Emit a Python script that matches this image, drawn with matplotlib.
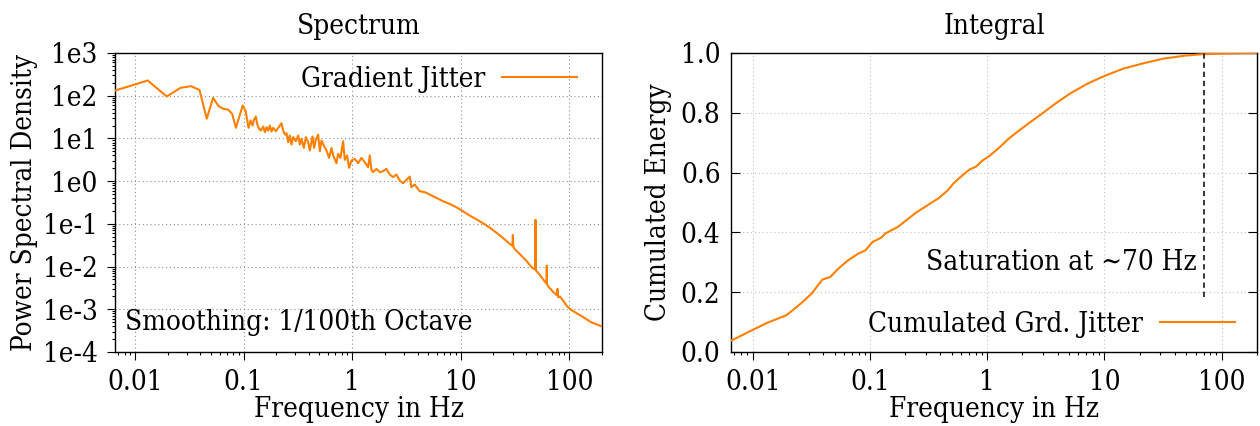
import numpy as np
import matplotlib
matplotlib.use('Agg')
import matplotlib.pyplot as plt
from matplotlib.ticker import FixedLocator, FixedFormatter, LogLocator, NullFormatter

# ---------------- data ----------------
spec_freq = [0.00654, 0.0131, 0.0196, 0.0262, 0.0327, 0.0392, 0.0458, 0.0523, 0.0589, 0.0654,
             0.0719, 0.0785, 0.085, 0.0916, 0.0981, 0.1046, 0.111, 0.1159, 0.1209, 0.1244,
             0.1298, 0.1335, 0.1393, 0.1442, 0.1516, 0.157, 0.1627, 0.1685, 0.1745, 0.1809,
             0.1873, 0.1982, 0.2083, 0.2235, 0.2315, 0.2399, 0.2485, 0.2574, 0.2666, 0.2763,
             0.2862, 0.3028, 0.3182, 0.3296, 0.3415, 0.3587, 0.3742, 0.3932, 0.4073, 0.431,
             0.4465, 0.4625, 0.486, 0.5034, 0.5216, 0.5481, 0.5799, 0.6136, 0.6447, 0.6679,
             0.7166, 0.7423, 0.78, 0.8253, 0.855, 0.898, 0.937, 0.9845, 1.057, 1.134,
             1.217, 1.306, 1.402, 1.452, 1.504, 1.558, 1.672, 1.794, 1.926, 2.066,
             2.218, 2.38, 2.555, 2.741, 2.942, 3.157, 3.388, 3.51, 3.766, 4.187,
             4.655, 5.175, 5.96, 6.865, 7.905, 9.1, 10.48, 12.08, 13.91, 16.01,
             18.45, 21.24, 24.47, 28.18, 29.9, 30.2, 30.5, 31.33, 34.83, 40.11,
             45.53, 48.5, 48.8, 49.1, 53.19, 59.13, 61.7, 62.0, 62.3, 64.8,
             71.5, 76.5, 78.0, 79.0, 82.4, 88.4, 94.9, 104.0, 119.8, 138.0,
             158.9, 196.5, 200.0]
spec_psd = [132, 227, 96, 153, 167, 137, 29, 89, 57, 49,
            47.5, 37.6, 17.7, 33, 59, 43, 17.7, 26.3, 20.0, 27.2,
            32.6, 21.2, 16.7, 15.3, 19.0, 14.0, 18.3, 15.3, 20.0, 14.5,
            17.7, 14.8, 17.7, 22.7, 15.3, 12.3, 13.3, 8.16, 11.7, 7.2,
            10.7, 8.6, 11.7, 7.2, 9.8, 6.0, 10.7, 8.16, 5.2, 11.1,
            6.0, 9.26, 12.3, 5.02, 8.93, 6.82, 5.2, 3.5, 6.0, 3.98,
            2.63, 4.35, 3.5, 8.6, 3.15, 3.98, 2.05, 3.04, 3.32, 2.63,
            3.5, 2.78, 2.12, 3.98, 1.84, 1.62, 1.94, 1.62, 1.71, 1.94,
            1.43, 1.24, 1.43, 1.03, 0.895, 1.07, 1.28, 0.721, 0.833, 0.581,
            0.551, 0.486, 0.406, 0.339, 0.2935, 0.245, 0.198, 0.1564, 0.1284, 0.1035,
            0.0819, 0.0626, 0.0469, 0.034, 0.031, 0.055, 0.029, 0.0259, 0.0198, 0.01382,
            0.0093, 0.0085, 0.124, 0.0082, 0.0065, 0.00453, 0.0040, 0.0105, 0.0038, 0.00328,
            0.0025, 0.00215, 0.0030, 0.0019, 0.00198, 0.00154, 0.0012, 0.000966, 0.00078, 0.000628,
            0.000497, 0.000401, 0.000395]

cum_freq = [0.00654, 0.01319, 0.01943, 0.02575, 0.0318, 0.0393, 0.0459, 0.0539, 0.0643, 0.0795,
            0.0915, 0.1053, 0.1256, 0.1347, 0.1725, 0.2130, 0.2452, 0.3249, 0.3876, 0.4623,
            0.5137, 0.5913, 0.7054, 0.8118, 0.9025, 1.039, 1.239, 1.530, 1.890, 2.335,
            2.885, 3.823, 5.07, 7.205, 10.25, 14.57, 20.73, 31.6, 48.27, 68.6,
            104.7, 200.0]
cum_energy = [0.038, 0.097, 0.123, 0.162, 0.195, 0.242, 0.251, 0.279, 0.305, 0.329,
              0.340, 0.368, 0.383, 0.396, 0.418, 0.446, 0.465, 0.496, 0.515, 0.541,
              0.563, 0.585, 0.610, 0.621, 0.639, 0.655, 0.680, 0.714, 0.742, 0.769,
              0.795, 0.831, 0.864, 0.898, 0.925, 0.948, 0.964, 0.981, 0.991, 0.996,
              0.998, 1.0]

sat_freq = 70.0
sat_range = [0.184, 1.0]

x_ticks = [0.01, 0.1, 1, 10, 100]
x_tick_labels = ['0.01', '0.1', '1', '10', '100']
psd_ticks = [1e3, 1e2, 1e1, 1e0, 1e-1, 1e-2, 1e-3, 1e-4]
psd_tick_labels = ['1e3', '1e2', '1e1', '1e0', '1e-1', '1e-2', '1e-3', '1e-4']
cum_ticks = [0.0, 0.2, 0.4, 0.6, 0.8, 1.0]
cum_tick_labels = ['0.0', '0.2', '0.4', '0.6', '0.8', '1.0']

# ---------------- style ----------------
plt.rcParams['font.family'] = ['DejaVu Serif', 'DejaVu Sans']
plt.rcParams['font.stretch'] = 'condensed'
plt.rcParams['font.size'] = 20
ORANGE = '#ff8000'
FS = 20

fig = plt.figure(figsize=(12.6, 4.26), dpi=100)
W, H = 1260.0, 426.0
ax1 = fig.add_axes([115 / W, 74 / H, 487 / W, 299 / H])
ax2 = fig.add_axes([731 / W, 74 / H, 526 / W, 299 / H])

# ---------------- left: spectrum ----------------
ax1.plot(spec_freq, spec_psd, color=ORANGE, lw=1.5, label='Gradient Jitter', zorder=3)
ax1.set_xscale('log')
ax1.set_yscale('log')
ax1.set_xlim(0.00654, 200)
ax1.set_ylim(1e-4, 1e3)
ax1.xaxis.set_major_locator(FixedLocator(x_ticks))
ax1.xaxis.set_major_formatter(FixedFormatter(x_tick_labels))
ax1.xaxis.set_minor_locator(LogLocator(base=10, subs=np.arange(2, 10) * 1.0, numticks=100))
ax1.xaxis.set_minor_formatter(NullFormatter())
ax1.yaxis.set_major_locator(FixedLocator(psd_ticks))
ax1.yaxis.set_major_formatter(FixedFormatter(psd_tick_labels))
ax1.yaxis.set_minor_locator(LogLocator(base=10, subs=np.arange(2, 10) * 1.0, numticks=100))
ax1.yaxis.set_minor_formatter(NullFormatter())
ax1.tick_params(which='major', direction='out', length=5.5, width=0.8, pad=7, labelsize=FS)
ax1.tick_params(which='minor', direction='out', length=2.5, width=0.8)
ax1.grid(True, which='major', color='#909090', linestyle=(0, (1, 2.5)), lw=0.8)
ax1.grid(False, which='minor')
ax1.set_title('Spectrum', fontsize=FS, pad=14)
ax1.set_xlabel('Frequency in Hz', fontsize=FS, labelpad=0)
ax1.set_ylabel('Power Spectral Density', fontsize=FS)
ax1.yaxis.set_label_coords(-0.159, 0.5)
ax1.text(0.0205, 0.0736, 'Smoothing: 1/100th Octave', transform=ax1.transAxes,
         ha='left', va='baseline', fontsize=FS)
ax1.legend(loc='center right', bbox_to_anchor=(0.9487, 0.913), frameon=False,
           markerfirst=False, handlelength=2.7, handletextpad=0.6,
           borderpad=0, borderaxespad=0, fontsize=FS)

# ---------------- right: integral ----------------
ax2.plot(cum_freq, cum_energy, color=ORANGE, lw=1.5, label='Cumulated Grd. Jitter', zorder=3)
ax2.plot([sat_freq, sat_freq], sat_range, color='black', lw=1.1, linestyle=(0, (3.5, 2.5)), zorder=4)
ax2.set_xscale('log')
ax2.set_xlim(0.00654, 200)
ax2.set_ylim(0, 1)
ax2.xaxis.set_major_locator(FixedLocator(x_ticks))
ax2.xaxis.set_major_formatter(FixedFormatter(x_tick_labels))
ax2.xaxis.set_minor_locator(LogLocator(base=10, subs=np.arange(2, 10) * 1.0, numticks=100))
ax2.xaxis.set_minor_formatter(NullFormatter())
ax2.yaxis.set_major_locator(FixedLocator(cum_ticks))
ax2.yaxis.set_major_formatter(FixedFormatter(cum_tick_labels))
ax2.tick_params(axis='x', which='major', direction='out', length=5.5, width=0.8, pad=7, labelsize=FS)
ax2.tick_params(axis='x', which='minor', direction='out', length=2.5, width=0.8)
ax2.tick_params(axis='y', which='major', direction='in', length=6.5, width=0.8, pad=7.5,
                labelsize=FS, right=True)
ax2.grid(True, which='major', color='#c0c0c0', linestyle=(0, (1, 2.5)), lw=0.8)
ax2.set_title('Integral', fontsize=FS, pad=14)
ax2.set_xlabel('Frequency in Hz', fontsize=FS, labelpad=0)
ax2.set_ylabel('Cumulated Energy', fontsize=FS)
ax2.yaxis.set_label_coords(-0.112, 0.5)
ax2.text(0.886, 0.273, 'Saturation at \u223c70 Hz', transform=ax2.transAxes,
         ha='right', va='baseline', fontsize=FS)
ax2.legend(loc='center right', bbox_to_anchor=(0.958, 0.0926), frameon=False,
           markerfirst=False, handlelength=2.7, handletextpad=0.6,
           borderpad=0, borderaxespad=0, fontsize=FS)

for ax in (ax1, ax2):
    for s in ax.spines.values():
        s.set_linewidth(1.0)
        s.set_color('black')

fig.savefig('out.png', dpi=100)
